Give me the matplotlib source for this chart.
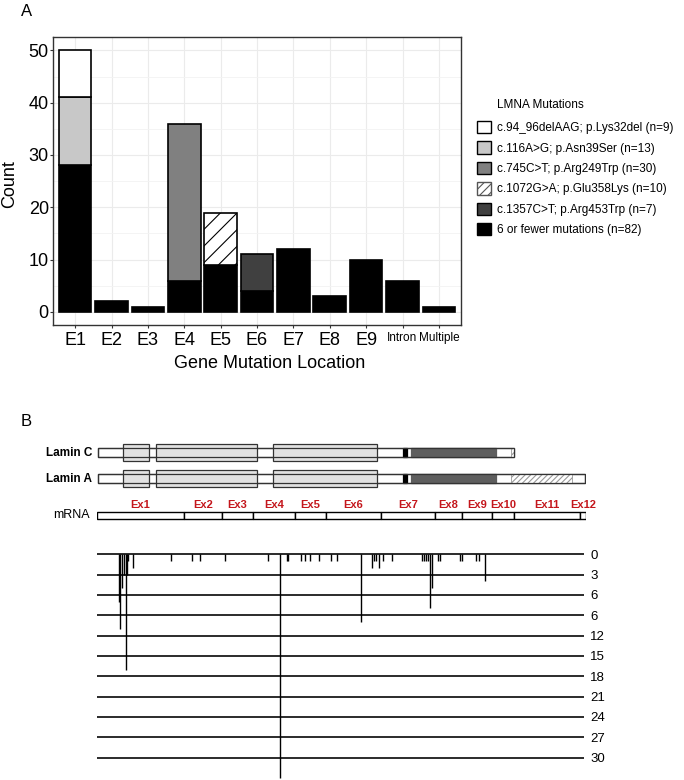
import matplotlib.pyplot as plt
import numpy as np
from matplotlib.patches import Patch, Rectangle

plt.rcParams['font.family'] = ['Liberation Sans', 'DejaVu Sans']
plt.rcParams['hatch.linewidth'] = 0.8

W, H = 684, 780

# ---- panel A data ----
locations = ['E1', 'E2', 'E3', 'E4', 'E5', 'E6', 'E7', 'E8', 'E9', 'Intron', 'Multiple']
other_muts = [28, 2, 1, 6, 9, 4, 12, 3, 10, 6, 1]
arg453trp = [0, 0, 0, 0, 0, 7, 0, 0, 0, 0, 0]
glu358lys = [0, 0, 0, 0, 10, 0, 0, 0, 0, 0, 0]
arg249trp = [0, 0, 0, 30, 0, 0, 0, 0, 0, 0, 0]
asn39ser = [13, 0, 0, 0, 0, 0, 0, 0, 0, 0, 0]
lys32del = [9, 0, 0, 0, 0, 0, 0, 0, 0, 0, 0]

legend_labels = ['c.94_96delAAG; p.Lys32del (n=9)',
                 'c.116A>G; p.Asn39Ser (n=13)',
                 'c.745C>T; p.Arg249Trp (n=30)',
                 'c.1072G>A; p.Glu358Lys (n=10)',
                 'c.1357C>T; p.Arg453Trp (n=7)',
                 '6 or fewer mutations (n=82)']

# ---- panel B data ----
exon_names = ['Ex1', 'Ex2', 'Ex3', 'Ex4', 'Ex5', 'Ex6', 'Ex7', 'Ex8', 'Ex9', 'Ex10', 'Ex11', 'Ex12']
exon_edges = [0, 87, 125, 156, 198, 229, 284, 338, 365, 395, 417, 483, 489]
lamin_c_end = 417
lamin_a_end = 488
domain_boxes = [(25.5, 51.6), (58.8, 160), (176, 280)]
black_seg = (305.6, 309.7)
gray_seg = (314, 398.5)
lamin_c_tail = (414, 417)
lamin_a_tail = (414, 475)

mut_pos = [22, 23, 25, 27, 28.5, 30, 31, 36, 74, 95, 102.5, 127.5, 170.5, 183,
           190, 191.3, 203.7, 208, 212.5, 221.7, 233.7, 239.7, 263.7, 274.7, 277,
           279, 281.5, 285.5, 295, 324.7, 327, 329, 331, 333, 334.7, 341, 343,
           363, 365, 378.7, 382, 388.3]
mut_count = [7, 11, 5, 3, 17, 3, 1, 2, 1, 1, 1, 1, 1, 33,
             1, 1, 1, 1, 1, 1, 1, 1, 10, 2, 1,
             1, 2, 1, 1, 1, 1, 1, 1, 8, 5, 1, 1,
             1, 1, 1, 1, 4]
depth_rows = [0, 3, 6, 9, 12, 15, 18, 21, 24, 27, 30]
depth_labels = ['0', '3', '6', '6', '12', '15', '18', '21', '24', '27', '30']

fig = plt.figure(figsize=(W / 100, H / 100), dpi=100)

# ================= Panel A =================
ax = fig.add_axes([53.3 / W, 1 - 325 / H, (460.7 - 53.3) / W, (325 - 37.3) / H])
x = np.arange(len(locations))
stack = [(other_muts, 'black', None),
         (arg453trp, '#404040', None),
         (glu358lys, 'white', '//'),
         (arg249trp, '#808080', None),
         (asn39ser, '#c8c8c8', None),
         (lys32del, 'white', None)]
bottom = np.zeros(len(locations))
for vals, fc, hatch in stack:
    v = np.array(vals, dtype=float)
    m = v > 0
    ax.bar(x[m], v[m], width=0.9, bottom=bottom[m], color=fc, edgecolor='black',
           linewidth=1.2, hatch=hatch, zorder=2)
    bottom += v

ax.set_xlim(-0.6, len(locations) - 0.4)
ax.set_ylim(-2.5, 52.5)
ax.set_yticks([0, 10, 20, 30, 40, 50])
ax.set_yticks([5, 15, 25, 35, 45], minor=True)
ax.set_xticks(x)
ax.set_xticklabels(locations)
for lbl in ax.get_xticklabels():
    lbl.set_fontsize(13 if len(lbl.get_text()) < 4 else 8.5)
ax.tick_params(axis='y', which='major', labelsize=13, length=2.2, pad=1, color='#333333')
ax.tick_params(axis='x', which='major', length=2.2, pad=2.5, color='#333333')
ax.tick_params(which='minor', length=0)
ax.grid(which='major', color='#ebebeb', lw=0.8)
ax.grid(which='minor', axis='y', color='#f3f3f3', lw=0.6)
ax.set_axisbelow(True)
for s in ax.spines.values():
    s.set_color('#333333')
    s.set_linewidth(1)
ax.set_ylabel('Count', fontsize=13)
ax.yaxis.set_label_coords(-0.086, 0.49)
ax.set_xlabel('Gene Mutation Location', fontsize=13)
ax.xaxis.set_label_coords(0.53, -0.106)

handles = [Patch(facecolor='white', edgecolor='black'),
           Patch(facecolor='#c8c8c8', edgecolor='black'),
           Patch(facecolor='#808080', edgecolor='black'),
           Patch(facecolor='white', edgecolor='#555555', hatch='////'),
           Patch(facecolor='#404040', edgecolor='black'),
           Patch(facecolor='black', edgecolor='black')]
fig.text(497 / W, 1 - 105 / H, 'LMNA Mutations', fontsize=8.5, va='center')
fig.legend(handles, legend_labels, loc='upper left', bbox_to_anchor=(476.5 / W, 1 - 121 / H),
           frameon=False, fontsize=8.5, handlelength=1.2, handleheight=1.2,
           handletextpad=0.55, labelspacing=0.63, borderpad=0, borderaxespad=0)

fig.text(21 / W, 1 - 11 / H, 'A', fontsize=12, va='center')
fig.text(21 / W, 1 - 421 / H, 'B', fontsize=12, va='center')

# ================= Panel B: gene structure =================
axg = fig.add_axes([97 / W, 1 - 528 / H, 489 / W, 88 / H])
axg.set_xlim(0, 489)
axg.set_ylim(528, 440)
axg.axis('off')

row_c, row_a, row_m = 452.5, 478.5, 515.5
box_h, thin_h, mrna_h = 17, 9, 7


def rect(a, x0, x1, yc, h, fc, ec='#333333', hatch=None, lw=0.9):
    a.add_patch(Rectangle((x0, yc - h / 2), x1 - x0, h, facecolor=fc, edgecolor=ec,
                          linewidth=lw, hatch=hatch))


for yc, end, tail in [(row_c, lamin_c_end, lamin_c_tail), (row_a, lamin_a_end, lamin_a_tail)]:
    rect(axg, 1, end, yc, thin_h, 'white')
    for b0, b1 in domain_boxes:
        rect(axg, b0, b1, yc, box_h, '#e2e2e2')
    rect(axg, black_seg[0], black_seg[1], yc, thin_h, 'black', ec='black')
    rect(axg, gray_seg[0], gray_seg[1], yc, thin_h, '#5e5e5e', ec='#5e5e5e')
    rect(axg, tail[0], tail[1], yc, thin_h, 'white', ec='#999999', hatch='//////', lw=0.6)
    rect(axg, 1, end, yc, thin_h, 'none')

axg.text(-5, row_c, 'Lamin C', ha='right', va='center', fontsize=8.5, fontweight='bold')
axg.text(-5, row_a, 'Lamin A', ha='right', va='center', fontsize=8.5, fontweight='bold')
axg.text(-7, row_m, 'mRNA', ha='right', va='center', fontsize=9)

for i, name in enumerate(exon_names):
    x0, x1 = exon_edges[i], exon_edges[i + 1]
    rect(axg, x0, x1, row_m, mrna_h, 'white', ec='black', lw=1)
    axg.text((x0 + x1) / 2, row_m - 11, name, ha='center', va='center', fontsize=8,
             fontweight='bold', color='#c4161c')

# ================= Panel B: mutation counts =================
axs = fig.add_axes([97 / W, 0, 489 / W, 230 / H])
axs.set_xlim(0, 489)
axs.set_ylim(33.3, -0.63)
axs.hlines(depth_rows, 0, 487, color='#1a1a1a', lw=1.3)
axs.vlines(mut_pos, 0, mut_count, color='black', lw=1)
for s in axs.spines.values():
    s.set_visible(False)
axs.set_xticks([])
axs.yaxis.tick_right()
axs.set_yticks(depth_rows)
axs.set_yticklabels(depth_labels)
axs.tick_params(axis='y', length=0, pad=3, labelsize=9.5)

fig.savefig('out.png', dpi=100)
